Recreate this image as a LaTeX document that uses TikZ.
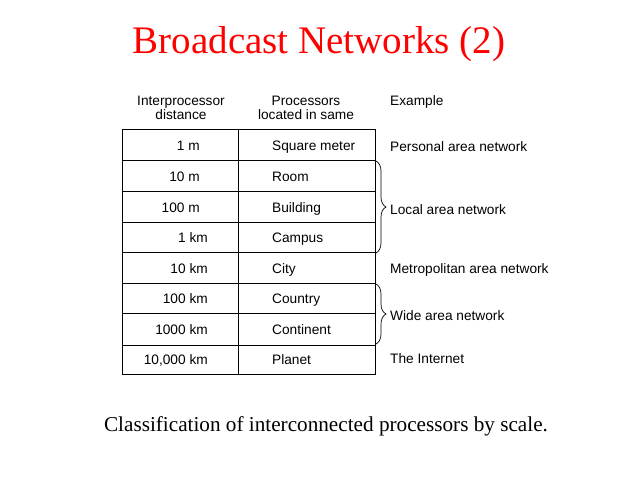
\documentclass[tikz,border=0pt]{standalone}
\usepackage{fontspec}
\setmainfont{Liberation Serif}
\newfontfamily\tabfont{Liberation Sans}
\usetikzlibrary{decorations.pathreplacing}
\begin{document}
\begin{tikzpicture}[x=1pt,y=-1pt,
  txt/.style={font=\tabfont\fontsize{13.7}{15}\selectfont, inner sep=0pt, anchor=base},
  dist/.style={txt, anchor=base east},
  lefttxt/.style={txt, anchor=base west},
  grid/.style={line width=0.9pt, black},
  bracestyle/.style={line width=0.7pt, decorate, decoration={brace, amplitude=10pt}}]
\useasboundingbox[fill=white] (0,0) rectangle (640,480);
% title and caption
\node[font=\fontsize{39}{44}\selectfont, text=red, inner sep=0pt, anchor=base] (title) at (319,53) {Broadcast Networks (2)};
\node[font=\fontsize{21.2}{24}\selectfont, inner sep=0pt, anchor=base] (caption) at (326,431) {Classification of interconnected processors by scale.};
% headers
\node[txt] (h1a) at (181,105.5) {Interprocessor};
\node[txt] (h1b) at (181,119.5) {distance};
\node[txt] (h2a) at (306,105.5) {Processors};
\node[txt] (h2b) at (306,119.5) {located in same};
\node[lefttxt] (h3) at (390,105.5) {Example};
% table
\draw[grid] (122,129) rectangle (375,374);
\draw[grid] (238,129) -- (238,374);
\foreach \y in {160,191,222,252,283,313,345} \draw[grid] (122,\y) -- (375,\y);
% distances
\node[dist] (d1) at (200,150) {1 m};
\node[dist] (d2) at (200,181) {10 m};
\node[dist] (d3) at (200,212) {100 m};
\node[dist] (d4) at (208,242) {1 km};
\node[dist] (d5) at (208,273) {10 km};
\node[dist] (d6) at (208,303) {100 km};
\node[dist] (d7) at (208,334) {1000 km};
\node[dist] (d8) at (208,364.5) {10,000 km};
% processors
\node[lefttxt] (p1) at (272,150) {Square meter};
\node[lefttxt] (p2) at (272,181) {Room};
\node[lefttxt] (p3) at (272,212) {Building};
\node[lefttxt] (p4) at (272,242) {Campus};
\node[lefttxt] (p5) at (272,273) {City};
\node[lefttxt] (p6) at (272,303) {Country};
\node[lefttxt] (p7) at (272,334) {Continent};
\node[lefttxt] (p8) at (272,364.5) {Planet};
% examples
\node[lefttxt] (e1) at (390,151) {Personal area network};
\node[lefttxt] (e2) at (390,214) {Local area network};
\node[lefttxt] (e3) at (390,273) {Metropolitan area network};
\node[lefttxt] (e4) at (390,320) {Wide area network};
\node[lefttxt] (e5) at (390,363) {The Internet};
% braces
\coordinate (b1t) at (376,161);
\coordinate (b1b) at (376,253);
\coordinate (b2t) at (376,284);
\coordinate (b2b) at (376,344);
\draw[bracestyle] (b1t) -- (b1b);
\draw[bracestyle] (b2t) -- (b2b);
\end{tikzpicture}
\end{document}
